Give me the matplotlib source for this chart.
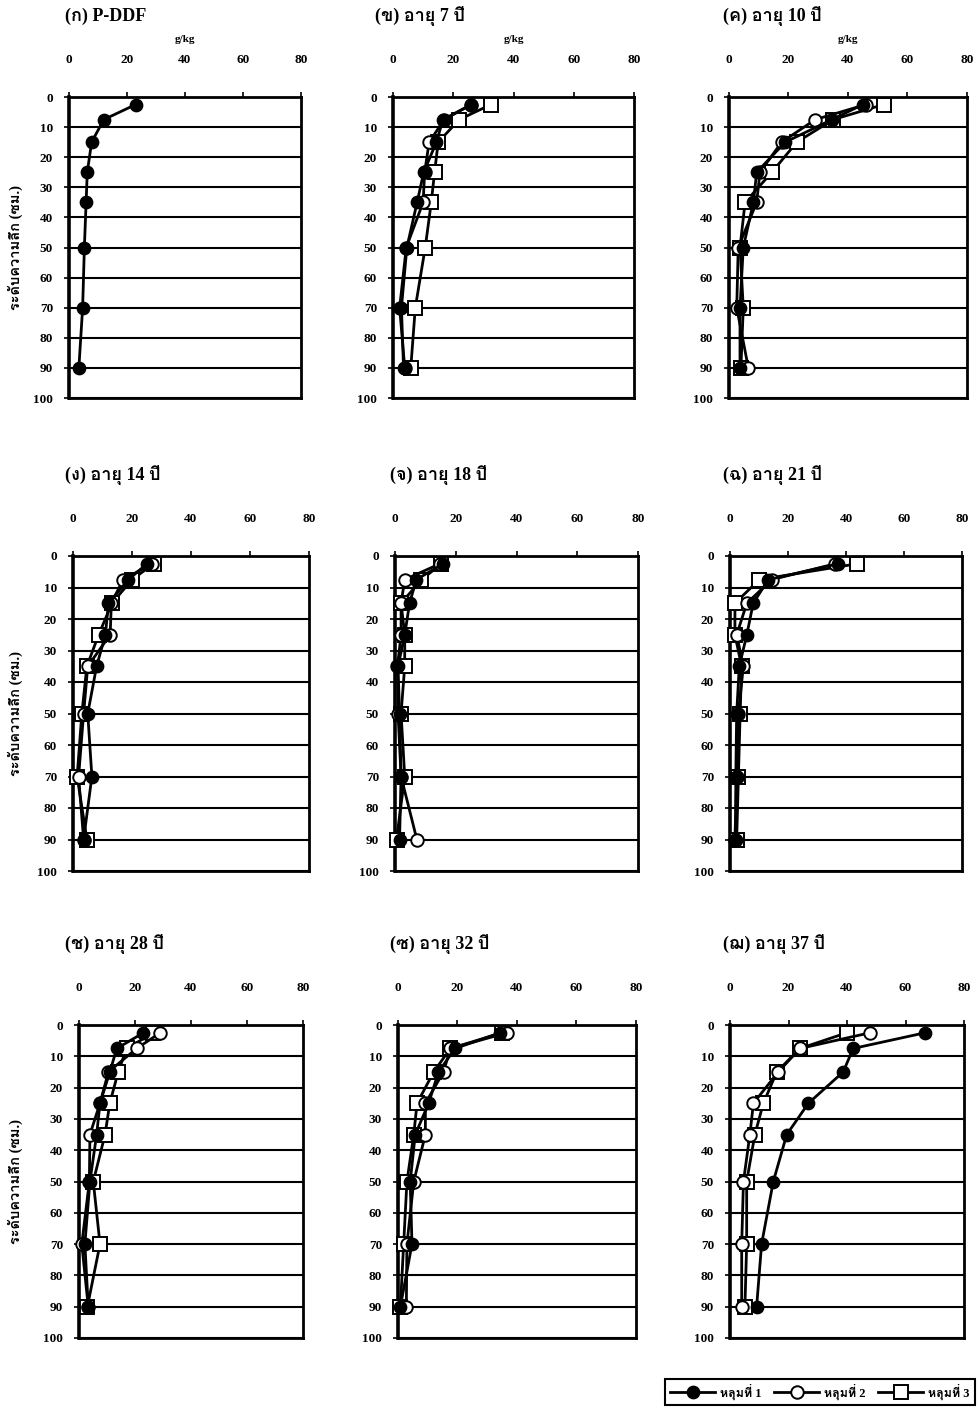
import matplotlib
matplotlib.use("Agg")
import matplotlib.pyplot as plt
from matplotlib import font_manager
from matplotlib.lines import Line2D

# soil depth (cm) of each sampling layer
depth = [2.5, 7.5, 15, 25, 35, 50, 70, 90]

# P-DDF reference plot, single profile
ddf = [23.0, 12.0, 7.8, 6.3, 5.9, 5.3, 4.7, 3.4]

# plantation age 7 yr, pits 1-3
age7_p1 = [26.0, 16.6, 14.4, 10.2, 8.0, 4.6, 2.8, 3.5]
age7_p2 = [26.0, 17.0, 12.0, 10.5, 10.0, 4.4, 2.2, 3.9]
age7_p3 = [32.5, 22.0, 15.0, 13.8, 12.7, 10.7, 7.4, 5.9]

# age 10 yr
age10_p1 = [45.0, 34.6, 18.9, 9.3, 8.2, 4.8, 3.7, 3.7]
age10_p2 = [46.0, 29.0, 17.7, 10.4, 9.3, 3.1, 2.6, 6.5]
age10_p3 = [52.0, 35.0, 22.8, 14.4, 5.4, 3.7, 4.8, 4.0]

# age 14 yr
age14_p1 = [25.0, 18.8, 12.0, 11.0, 8.0, 5.0, 6.4, 3.6]
age14_p2 = [26.7, 17.0, 13.0, 12.6, 5.0, 3.6, 1.9, 3.6]
age14_p3 = [27.3, 20.0, 13.2, 8.7, 4.7, 3.0, 1.4, 4.7]

# age 18 yr
age18_p1 = [15.8, 7.0, 4.8, 3.2, 1.0, 1.5, 2.0, 1.5]
age18_p2 = [14.7, 3.2, 2.0, 2.0, 0.8, 1.0, 2.0, 7.2]
age18_p3 = [15.3, 8.7, 2.0, 3.2, 3.2, 2.0, 3.2, 0.5]

# age 21 yr
age21_p1 = [37.2, 13.2, 8.0, 5.8, 3.2, 2.3, 2.0, 2.0]
age21_p2 = [36.2, 14.4, 5.8, 2.3, 4.6, 2.9, 2.3, 1.7]
age21_p3 = [43.7, 10.1, 1.7, 1.7, 4.0, 3.5, 2.9, 2.3]

# age 28 yr
age28_p1 = [23.0, 13.5, 11.0, 7.5, 6.3, 3.9, 2.1, 3.3]
age28_p2 = [29.0, 20.6, 10.5, 7.5, 3.9, 3.7, 1.0, 3.3]
age28_p3 = [26.6, 17.0, 14.0, 11.0, 9.3, 5.1, 7.5, 3.0]

# age 32 yr
age32_p1 = [34.3, 19.2, 13.6, 10.3, 5.8, 4.1, 4.7, 0.8]
age32_p2 = [36.6, 17.6, 15.3, 9.2, 9.2, 5.3, 3.0, 2.8]
age32_p3 = [34.9, 17.6, 12.0, 6.4, 5.3, 3.0, 1.9, 0.8]

# age 37 yr
age37_p1 = [66.6, 42.1, 38.7, 26.8, 19.4, 14.8, 10.8, 9.1]
age37_p2 = [47.8, 23.9, 16.5, 8.0, 6.8, 4.6, 4.0, 4.0]
age37_p3 = [39.9, 23.9, 16.0, 11.4, 8.5, 5.7, 5.7, 5.1]

titles = ["(ก) P-DDF", "(ข) อายุ 7 ปี", "(ค) อายุ 10 ปี",
          "(ง) อายุ 14 ปี", "(จ) อายุ 18 ปี", "(ฉ) อายุ 21 ปี",
          "(ช) อายุ 28 ปี", "(ซ) อายุ 32 ปี", "(ฌ) อายุ 37 ปี"]
pit_names = ["หลุมที่ 1", "หลุมที่ 2", "หลุมที่ 3"]
ylabel = "ระดับความลึก (ซม.)"
xunit = "g/kg"
xticks = [0, 20, 40, 60, 80]
yticks = [0, 10, 20, 30, 40, 50, 60, 70, 80, 90, 100]

panels = [
    [ddf],
    [age7_p1, age7_p2, age7_p3],
    [age10_p1, age10_p2, age10_p3],
    [age14_p1, age14_p2, age14_p3],
    [age18_p1, age18_p2, age18_p3],
    [age21_p1, age21_p2, age21_p3],
    [age28_p1, age28_p2, age28_p3],
    [age32_p1, age32_p2, age32_p3],
    [age37_p1, age37_p2, age37_p3],
]


def find_thai_font():
    # pick the first installed family that has Thai glyphs
    try:
        from fontTools.ttLib import TTFont
    except ImportError:
        return None
    for f in font_manager.fontManager.ttflist:
        try:
            cmap = TTFont(f.fname, fontNumber=0, lazy=True).getBestCmap()
        except Exception:
            continue
        if cmap and 0x0E2D in cmap and 0x0E1B in cmap:
            return f.name
    return None


thai = find_thai_font()
fams = ["Liberation Serif"] + ([thai] if thai else []) + ["DejaVu Sans"]
plt.rcParams["font.family"] = fams
plt.rcParams["font.weight"] = "bold"

W, H = 979, 1409
fig = plt.figure(figsize=(W / 100, H / 100), dpi=100)
fig.patch.set_facecolor("white")

# plot boxes in pixels: (left, right, top, bottom)
boxes = [
    (69, 301, 97, 398), (393, 634, 97, 398), (729, 967, 97, 398),
    (73, 309, 556, 871), (395, 638, 556, 871), (730, 962, 556, 871),
    (79, 303, 1025, 1338), (398, 636, 1025, 1338), (730, 964, 1025, 1338),
]
title_x = [65, 375, 723, 65, 390, 723, 65, 390, 723]

styles = [
    dict(marker="o", markersize=8.5, markerfacecolor="black", zorder=5),
    dict(marker="o", markersize=9, markerfacecolor="white", zorder=4),
    dict(marker="s", markersize=9.5, markerfacecolor="white", zorder=3),
]

for i, (box, series) in enumerate(zip(boxes, panels)):
    x0, x1, y0, y1 = box
    ax = fig.add_axes([x0 / W, 1 - y1 / H, (x1 - x0) / W, (y1 - y0) / H])
    for vals, st in zip(series, styles):
        ax.plot(vals, depth, color="black", linewidth=2.0,
                markeredgecolor="black", markeredgewidth=1.4, clip_on=False, **st)
    ax.set_xlim(0, 80)
    ax.set_ylim(100, 0)
    ax.xaxis.tick_top()
    ax.set_xticks(xticks)
    ax.set_yticks(yticks)
    ax.tick_params(axis="x", length=3.5, width=1.2, pad=19, labelsize=9.5)
    ax.tick_params(axis="y", length=3.5, width=1.2, pad=8, labelsize=9.5)
    for lab in ax.get_xticklabels() + ax.get_yticklabels():
        lab.set_fontweight("bold")
    ax.grid(axis="y", color="black", linewidth=1.5)
    ax.set_axisbelow(True)
    for sp in ax.spines.values():
        sp.set_linewidth(2)
    ax.spines["left"].set_linewidth(2.6)

    fig.text(title_x[i] / W, 1 - (y0 - 81) / H, titles[i], fontsize=13,
             fontweight="bold", ha="left", va="center")
    if i < 3:
        fig.text((x0 + x1) / 2 / W, 1 - (y0 - 58) / H, xunit, fontsize=8,
                 fontweight="bold", ha="center", va="center")
    if i % 3 == 0:
        fig.text(15 / W, 1 - (y0 + y1) / 2 / H, ylabel, fontsize=10.5,
                 fontweight="bold", rotation=90, ha="center", va="center")

handles = [Line2D([], [], color="black", linewidth=2.0, markeredgecolor="black",
                  markeredgewidth=1.4, **{k: v for k, v in st.items() if k != "zorder"})
           for st in styles]
leg = fig.legend(handles, pit_names, loc="lower right", ncol=3,
                 bbox_to_anchor=(975 / W, 1 - 1405 / H), borderaxespad=0,
                 fancybox=False, edgecolor="black", framealpha=1,
                 fontsize=9, handlelength=3.6, columnspacing=1.0,
                 handletextpad=0.4, borderpad=0.4)
leg.get_frame().set_linewidth(1.5)

fig.savefig("out.png", dpi=100)
